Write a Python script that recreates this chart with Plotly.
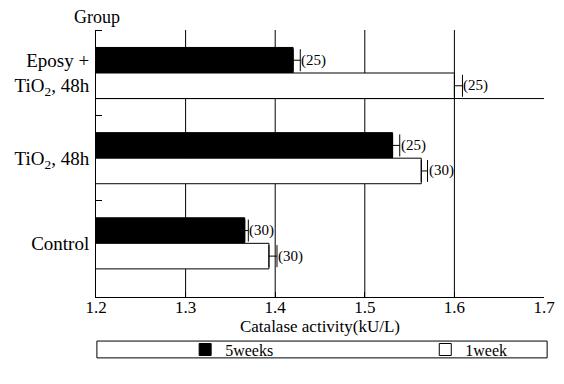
import plotly.graph_objects as go

# ---- data ----
groups = ["Control", "TiO<sub>2</sub>, 48h", "Eposy +<br>TiO<sub>2</sub>, 48h"]
group_pos = [0, 1, 2]
wk5 = [1.366, 1.531, 1.420]
wk5_err = [0.004, 0.008, 0.008]
wk5_n = [30, 25, 25]
wk1 = [1.393, 1.563, 1.600]
wk1_err = [0.009, 0.007, 0.009]
wk1_n = [30, 30, 25]
x_ticks = [1.2, 1.3, 1.4, 1.5, 1.6, 1.7]
series_names = ["5weeks", "1week"]

FONT = "'Liberation Serif', 'Times New Roman', 'DejaVu Serif', serif"
BW = 0.3

fig = go.Figure()
fig.add_trace(go.Bar(
    name=series_names[0], y=group_pos, x=wk5, orientation="h",
    width=BW, offset=0, legend="legend",
    marker=dict(color="black", line=dict(color="black", width=1)),
    error_x=dict(type="data", symmetric=False, array=wk5_err,
                 arrayminus=[0] * len(wk5), color="black", thickness=1, width=11),
))
fig.add_trace(go.Bar(
    name=series_names[1], y=group_pos, x=wk1, orientation="h",
    width=BW, offset=-BW, legend="legend2",
    marker=dict(color="white", line=dict(color="black", width=1)),
    error_x=dict(type="data", symmetric=False, array=wk1_err,
                 arrayminus=[0] * len(wk1), color="black", thickness=1, width=11),
))

annotations = []
for p, v, e, n in zip(group_pos, wk5, wk5_err, wk5_n):
    annotations.append(dict(x=v + e, y=p + BW / 2, xref="x", yref="y", text=f"({n})",
                            showarrow=False, xanchor="left", xshift=-1,
                            font=dict(family=FONT, size=15, color="black")))
for p, v, e, n in zip(group_pos, wk1, wk1_err, wk1_n):
    annotations.append(dict(x=v + e, y=p - BW / 2, xref="x", yref="y", text=f"({n})",
                            showarrow=False, xanchor="left", xshift=-1,
                            font=dict(family=FONT, size=15, color="black")))
annotations.append(dict(x=0.002, y=1.0, xref="paper", yref="paper", text="Group",
                        showarrow=False, xanchor="center", yanchor="bottom", yshift=1,
                        font=dict(family=FONT, size=18, color="black")))

shapes = []
for t in x_ticks[1:-1]:
    shapes.append(dict(type="line", xref="x", yref="paper", x0=t, x1=t, y0=0, y1=1,
                       line=dict(color="black", width=1), layer="below"))
# long horizontal line under the top group
shapes.append(dict(type="line", xref="x", yref="y", x0=x_ticks[0], x1=x_ticks[-1],
                   y0=group_pos[2] - BW, y1=group_pos[2] - BW,
                   line=dict(color="black", width=1)))
# legend frame
shapes.append(dict(type="rect", xref="paper", yref="paper", x0=0.002, x1=1.007,
                   y0=-0.228, y1=-0.165, line=dict(color="black", width=1),
                   fillcolor="rgba(0,0,0,0)"))

legend_common = dict(orientation="h", xanchor="left", y=-0.197, yanchor="middle",
                     bgcolor="rgba(0,0,0,0)", borderwidth=0,
                     font=dict(family=FONT, size=16, color="black"))

# the page body adds an 8px offset, so the figure is 8px smaller and margins shifted
fig.update_layout(
    width=556, height=376,
    margin=dict(l=88, r=20, t=22, b=87),
    paper_bgcolor="white", plot_bgcolor="white",
    barmode="overlay",
    font=dict(family=FONT, size=15, color="black"),
    showlegend=True,
    legend=dict(x=0.199, **legend_common),
    legend2=dict(x=0.735, **legend_common),
    annotations=annotations,
    shapes=shapes,
    xaxis=dict(range=[x_ticks[0], x_ticks[-1]], tickvals=x_ticks,
               ticktext=[f"{t:.1f}" for t in x_ticks], automargin=False,
               showgrid=False, zeroline=False, showline=True, linecolor="black",
               linewidth=1, ticks="inside", ticklen=5, tickcolor="black",
               ticklabelstandoff=-5,
               title=dict(text="Catalase activity(kU/L)", standoff=2,
                          font=dict(family=FONT, size=17)),
               tickfont=dict(family=FONT, size=17)),
    yaxis=dict(range=[-0.63, 2.505], tickvals=group_pos, ticktext=groups,
               automargin=False,
               showgrid=False, zeroline=False, showline=True, linecolor="black",
               linewidth=1, ticks="", ticklabelstandoff=2,
               minor=dict(tickmode="array", tickvals=[0.5, 1.5, 2.5], ticks="inside",
                          ticklen=6, tickcolor="black", showgrid=False),
               tickfont=dict(family=FONT, size=19)),
)

fig.write_html("out.html")
